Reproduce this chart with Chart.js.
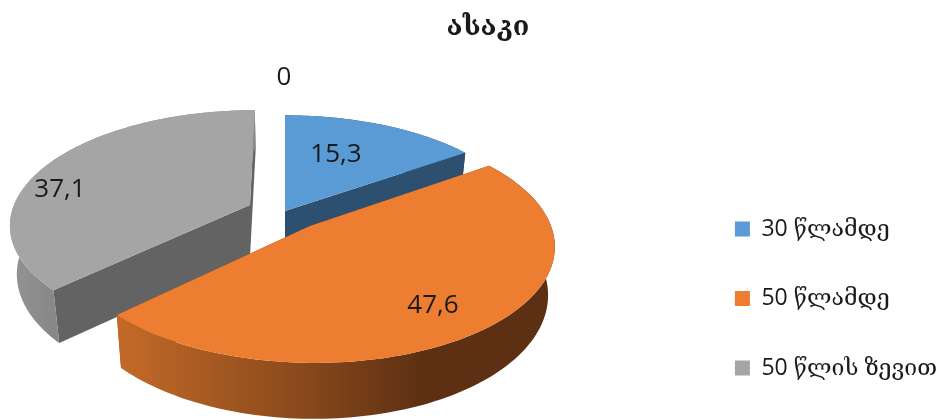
<!DOCTYPE html>
<html>
<head>
<meta charset="utf-8">
<style>
  html, body { margin: 0; padding: 0; background: #fff; }
  canvas { display: block; }
</style>
<script src="https://cdn.jsdelivr.net/npm/chart.js@4"></script>
</head>
<body>
<canvas id="chartAge" width="945" height="420"></canvas>
<script>
// Data
const categories = ['30 წლამდე', '50 წლამდე', '50 წლის ზევით', ''];
const ageValues = [15.3, 47.6, 37.1, 0];
const valueLabels = ['15,3', '47,6', '37,1', '0'];

const topColors = ['#5b9bd5', '#ed7d31', '#a5a5a5', '#ffc000'];
const flatWallColors = ['#2e5070', '#8a4a1c', '#636363', '#ffc000'];

// 3D look: each exploded slice has its own centre and radii in pixels
const sliceShapes = [
  { cx: 285, cy: 211, rx: 240, ry: 111 },
  { cx: 310, cy: 226, rx: 241, ry: 115 },
  { cx: 250, cy: 205, rx: 236, ry: 110 },
];
const labelSpots = [[336, 155], [433, 306], [60, 190], [284, 78]];
const VANISH_X = 285;
const PERSPECTIVE = 0.16;
const DEPTH = 47;
const APEX_DEPTH = 52;
const BOTTOM_SHRINK = 0.975;
const DRAW_ORDER = [2, 0, 1];
const FONT = "'Open Sans', 'DejaVu Serif', serif";

function project(shape, a, lower) {
  const u = Math.sin(a);
  const v = -Math.cos(a);
  const f = 1 / (1 - PERSPECTIVE * v);
  const x = (shape.cx - VANISH_X + u * shape.rx) * f;
  const y = shape.cy + v * shape.ry * f;
  if (lower) return [VANISH_X + x * BOTTOM_SHRINK, y + DEPTH * f];
  return [VANISH_X + x, y];
}

function wallFill(ctx, i) {
  if (i === 1) {
    const g = ctx.createLinearGradient(117, 0, 420, 0);
    g.addColorStop(0, '#c46a28');
    g.addColorStop(0.6, '#8a4a1c');
    g.addColorStop(1, '#5e3013');
    return g;
  }
  if (i === 2) {
    const g = ctx.createLinearGradient(10, 0, 60, 0);
    g.addColorStop(0, '#949494');
    g.addColorStop(1, '#868686');
    return g;
  }
  return flatWallColors[i];
}

function fillPoly(ctx, pts, fill) {
  ctx.beginPath();
  pts.forEach((p, n) => (n ? ctx.lineTo(p[0], p[1]) : ctx.moveTo(p[0], p[1])));
  ctx.closePath();
  ctx.fillStyle = fill;
  ctx.fill();
}

function arcPoints(shape, from, to, lower) {
  const pts = [];
  const steps = 120;
  for (let n = 0; n <= steps; n++) {
    pts.push(project(shape, from + (to - from) * n / steps, lower));
  }
  return pts;
}

// ── Draws the arcs as extruded slices, angles come from the arc elements ──
const pie3d = {
  id: 'pie3d',
  beforeDatasetsDraw(chart) {
    const { ctx } = chart;
    const arcs = chart.getDatasetMeta(0).data;
    DRAW_ORDER.forEach(i => {
      const shape = sliceShapes[i];
      const from = arcs[i].startAngle + Math.PI / 2;
      const to = arcs[i].endAngle + Math.PI / 2;
      const apex = [shape.cx, shape.cy];
      const apexLow = [shape.cx, shape.cy + APEX_DEPTH];
      const top = arcPoints(shape, from, to, false);
      const low = arcPoints(shape, from, to, true);

      fillPoly(ctx, [apex, top[0], low[0], apexLow], flatWallColors[i]);
      fillPoly(ctx, [apex, top[top.length - 1], low[low.length - 1], apexLow], flatWallColors[i]);
      fillPoly(ctx, top.concat(low.slice().reverse()), wallFill(ctx, i));
      fillPoly(ctx, [apex].concat(top), topColors[i]);
    });

    ctx.save();
    ctx.fillStyle = '#1a1a1a';
    ctx.font = '26px ' + FONT;
    ctx.textAlign = 'center';
    ctx.textBaseline = 'middle';
    valueLabels.forEach((t, i) => ctx.fillText(t, labelSpots[i][0], labelSpots[i][1]));
    ctx.restore();
    return false;
  },
};

new Chart(document.getElementById('chartAge'), {
  type: 'pie',
  data: {
    labels: categories,
    datasets: [{ data: ageValues, backgroundColor: topColors, borderWidth: 0 }],
  },
  options: {
    responsive: false,
    animation: false,
    events: [],
    layout: { padding: { left: 29, right: -2, top: 11, bottom: -6 } },
    plugins: {
      title: {
        display: true,
        text: 'ასაკი',
        color: '#1a1a1a',
        font: { family: FONT, size: 27, weight: 'bold' },
        padding: { top: 0, bottom: 0 },
      },
      legend: {
        position: 'right',
        align: 'end',
        labels: {
          filter: item => item.text !== '',
          boxWidth: 15,
          boxHeight: 15,
          padding: 46.5,
          color: '#1a1a1a',
          font: { family: FONT, size: 23 },
        },
      },
      tooltip: { enabled: false },
    },
  },
  plugins: [pie3d],
});
</script>
</body>
</html>
